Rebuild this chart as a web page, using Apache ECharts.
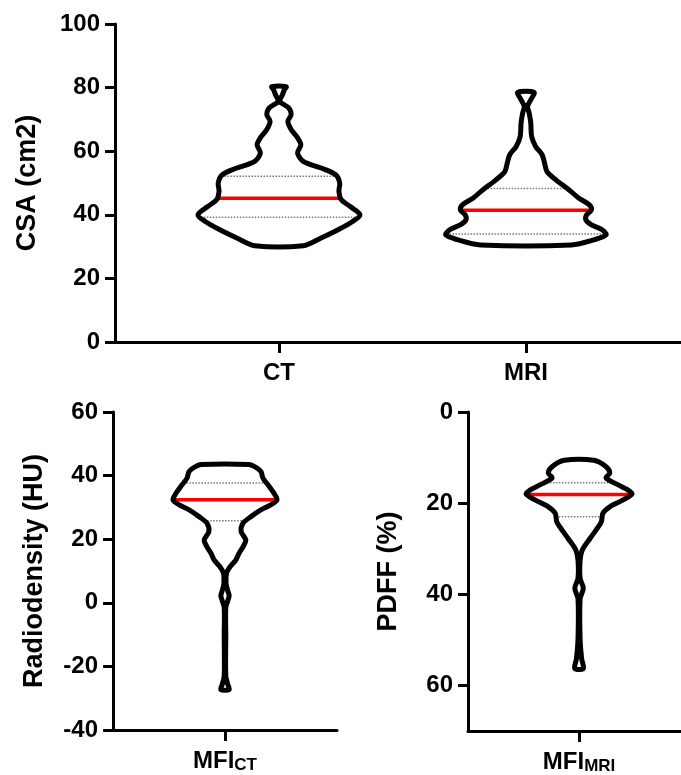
<!DOCTYPE html>
<html>
<head>
<meta charset="utf-8">
<script src="https://cdn.jsdelivr.net/npm/echarts@6/dist/echarts.min.js"></script>
<style>
  html, body { margin: 0; padding: 0; background: #fff; }
  #chart { width: 681px; height: 775px; }
</style>
</head>
<body>
<div id="chart"></div>
<script>
// --- top panel: CSA (cm2), CT vs MRI ---
const csaCategories = ['CT', 'MRI']
const csaCtLevels = [30.3, 32.7, 35.3, 37.9, 40.0, 42.6, 44.7, 47.4, 50.0, 52.6, 54.7, 56.8, 59.4, 62.0, 64.2, 66.8, 69.4, 71.5, 73.6, 75.7, 77.6, 79.5, 80.3]
const csaCtDensity = [0.30, 0.52, 0.73, 0.91, 1.00, 0.88, 0.77, 0.74, 0.75, 0.70, 0.52, 0.30, 0.23, 0.27, 0.23, 0.15, 0.11, 0.15, 0.12, 0.01, 0.04, 0.07, 0.09]
const csaMriLevels = [30.5, 32.2, 33.7, 35.3, 36.8, 38.4, 40.0, 41.6, 43.2, 45.3, 47.9, 51.0, 53.6, 56.3, 58.9, 61.5, 64.7, 68.9, 72.0, 74.1, 76.2, 78.5]
const csaMriDensity = [0.56, 0.85, 0.99, 0.94, 0.81, 0.74, 0.75, 0.81, 0.78, 0.65, 0.53, 0.37, 0.26, 0.23, 0.20, 0.12, 0.07, 0.06, 0.04, 0.02, 0.06, 0.10]
const csaCtQuartiles = [39.2, 45.2, 52.1]   // q1, median, q3
const csaMriQuartiles = [34.0, 41.4, 48.3]
const csaTicks = [0, 20, 40, 60, 80, 100]

// --- bottom left: radiodensity (HU) ---
const huCategories = ['MFI|CT']
const huLevels = [-27.3, -25.5, -23.0, -10.0, -1.5, 0.5, 2.3, 4.0, 6.2, 9.4, 11.4, 13.5, 15.6, 17.7, 19.8, 22.4, 25.1, 27.1, 29.2, 30.8, 32.4, 34.5, 36.6, 39.2, 41.3, 42.9, 43.5]
const huDensity = [0.08, 0.05, 0.015, 0.015, 0.015, 0.05, 0.08, 0.05, 0.02, 0.03, 0.10, 0.21, 0.27, 0.35, 0.40, 0.31, 0.35, 0.50, 0.69, 0.88, 1.00, 0.94, 0.85, 0.73, 0.69, 0.56, 0.46]
const huQuartiles = [25.8, 32.4, 37.7]
const huTicks = [-40, -20, 0, 20, 40, 60]

// --- bottom right: PDFF (%) ---
const pdffCategories = ['MFI|MRI']
const pdffLevels = [10.6, 12.0, 13.4, 14.5, 16.0, 17.1, 18.0, 19.3, 20.8, 22.2, 24.1, 25.9, 27.7, 30.3, 32.5, 36.5, 38.7, 41.0, 50.0, 54.2, 56.3]
const pdffDensity = [0.28, 0.51, 0.58, 0.51, 0.74, 0.92, 1.00, 0.83, 0.58, 0.45, 0.42, 0.32, 0.21, 0.06, 0.02, 0.02, 0.08, 0.02, 0.02, 0.05, 0.08]
const pdffQuartiles = [15.5, 18.1, 23.0]
const pdffTicks = [0, 20, 40, 60]

const FONT = '"Liberation Sans", Arial, Helvetica, sans-serif'

function widthAt(levels, density, v) {
  for (let i = 0; i < levels.length - 1; i++) {
    const a = levels[i], b = levels[i + 1]
    if ((v - a) * (v - b) <= 0) {
      const t = (v - a) / (b - a)
      return density[i] + t * (density[i + 1] - density[i])
    }
  }
  return 0
}

function violinRenderer(violins, maxHalfPx) {
  return function (params, api) {
    const vio = violins[params.dataIndex]
    const x = api.value(0)
    const left = [], right = []
    vio.levels.forEach((lv, i) => {
      const c = api.coord([x, lv])
      const hw = vio.density[i] * maxHalfPx
      left.push([c[0] - hw, c[1]])
      right.push([c[0] + hw, c[1]])
    })
    const children = []
    vio.quartiles.forEach((q, k) => {
      const c = api.coord([x, q])
      const hw = widthAt(vio.levels, vio.density, q) * maxHalfPx
      children.push({
        type: 'line',
        shape: { x1: c[0] - hw, y1: c[1], x2: c[0] + hw, y2: c[1] },
        style: k === 1
          ? { stroke: '#ff0000', lineWidth: 3.5 }
          : { stroke: '#7a7a7a', lineWidth: 1.5, lineDash: [1.5, 1.5] }
      })
    })
    children.push({
      type: 'polygon',
      shape: { points: left.concat(right.reverse()), smooth: 0.3 },
      style: { fill: 'none', stroke: '#000', lineWidth: 5, lineJoin: 'round' }
    })
    return { type: 'group', children }
  }
}

function catLabel(names) {
  return (v) => {
    const n = names[Math.round(v)] || ''
    const parts = n.split('|')
    return parts.length > 1 ? '{m|' + parts[0] + '}{s|' + parts[1] + '}' : '{m|' + n + '}'
  }
}

const axisLine = { show: true, onZero: false, lineStyle: { color: '#000', width: 3 } }
const xRich = {
  m: { color: '#000', fontSize: 24, fontWeight: 'bold', fontFamily: FONT, lineHeight: 26 },
  s: { color: '#000', fontSize: 17, fontWeight: 'bold', fontFamily: FONT, lineHeight: 15, verticalAlign: 'bottom' }
}
const nameStyle = { color: '#000', fontSize: 27, fontWeight: 'bold', fontFamily: FONT }

function xAxisFor(gridIndex, names, min, max) {
  const vals = names.map((_, i) => i)
  return {
    type: 'value', gridIndex, min, max,
    axisLine,
    axisTick: { show: true, customValues: vals, length: 11, lineStyle: { color: '#000', width: 3 } },
    axisLabel: { show: true, customValues: vals, margin: 18, formatter: catLabel(names), rich: xRich },
    splitLine: { show: false }
  }
}

function yAxisFor(gridIndex, name, ticks, min, max, nameGap, inverse) {
  return {
    type: 'value', gridIndex, min, max, inverse: !!inverse,
    name, nameLocation: 'middle', nameGap, nameTextStyle: nameStyle,
    axisLine,
    axisTick: { show: true, customValues: ticks, length: 10, lineStyle: { color: '#000', width: 3 } },
    axisLabel: { show: true, customValues: ticks, color: '#000', fontSize: 24, fontWeight: 'bold', fontFamily: FONT, margin: 15 },
    splitLine: { show: false }
  }
}

const chart = echarts.init(document.getElementById('chart'), null, { renderer: 'canvas' })

chart.setOption({
  animation: false,
  backgroundColor: '#fff',
  grid: [
    { left: 115, right: 0, top: 24, height: 318 },
    { left: 113, width: 224, top: 412, height: 318 },
    { left: 468, right: 0, top: 412, height: 319 }
  ],
  xAxis: [
    xAxisFor(0, csaCategories, -0.664, 1.628),
    xAxisFor(1, huCategories, -0.5, 0.5),
    xAxisFor(2, pdffCategories, -0.5, 0.459)
  ],
  yAxis: [
    yAxisFor(0, 'CSA (cm2)', csaTicks, 0, 100, 74),
    yAxisFor(1, 'Radiodensity (HU)', huTicks, -40, 60, 65),
    yAxisFor(2, 'PDFF (%)', pdffTicks, 0, 70, 66, true)
  ],
  series: [
    {
      type: 'custom', xAxisIndex: 0, yAxisIndex: 0, silent: true, clip: false,
      data: [[0, csaCtQuartiles[1]], [1, csaMriQuartiles[1]]],
      renderItem: violinRenderer([
        { levels: csaCtLevels, density: csaCtDensity, quartiles: csaCtQuartiles },
        { levels: csaMriLevels, density: csaMriDensity, quartiles: csaMriQuartiles }
      ], 81)
    },
    {
      type: 'custom', xAxisIndex: 1, yAxisIndex: 1, silent: true, clip: false,
      data: [[0, huQuartiles[1]]],
      renderItem: violinRenderer([
        { levels: huLevels, density: huDensity, quartiles: huQuartiles }
      ], 52)
    },
    {
      type: 'custom', xAxisIndex: 2, yAxisIndex: 2, silent: true, clip: false,
      data: [[0, pdffQuartiles[1]]],
      renderItem: violinRenderer([
        { levels: pdffLevels, density: pdffDensity, quartiles: pdffQuartiles }
      ], 53)
    }
  ]
})

window.addEventListener('resize', () => chart.resize())
</script>
</body>
</html>
